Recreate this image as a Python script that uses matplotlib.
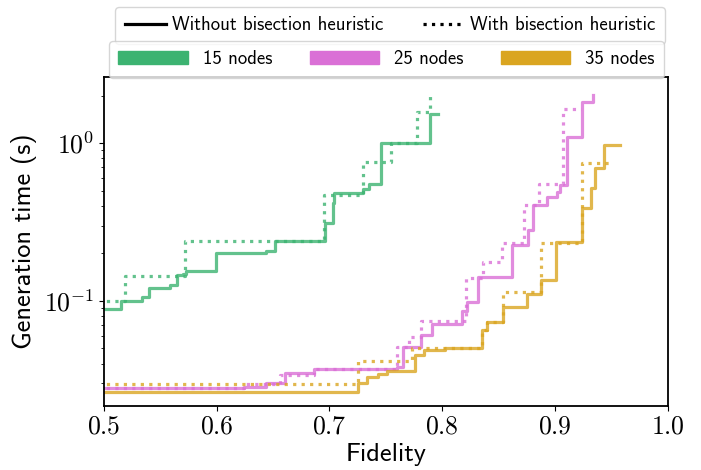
# Generation time vs fidelity, with and without bisection heuristic
import numpy as np
import matplotlib
matplotlib.use("Agg")
import matplotlib.pyplot as plt
from matplotlib.lines import Line2D
from matplotlib.patches import Patch
from matplotlib.ticker import NullFormatter

plt.rcParams['font.family'] = ['cmss10', 'DejaVu Sans']
plt.rcParams['mathtext.fontset'] = 'cm'
plt.rcParams['axes.unicode_minus'] = False

# 15 nodes
f15_plain = [0.48, 0.515, 0.534, 0.540, 0.559, 0.565, 0.570, 0.573, 0.599, 0.644,
             0.652, 0.696, 0.703, 0.704, 0.730, 0.735, 0.746, 0.789, 0.796]
t15_plain = [0.0890, 0.100, 0.106, 0.121, 0.126, 0.146, 0.148, 0.155, 0.201, 0.207,
             0.240, 0.312, 0.417, 0.483, 0.512, 0.550, 1.00, 1.53, 1.53]
f15_bis = [0.48, 0.519, 0.572, 0.695, 0.730, 0.755, 0.778, 0.789]
t15_bis = [0.100, 0.144, 0.240, 0.469, 0.758, 1.00, 1.57, 1.98]

# 25 nodes
f25_plain = [0.48, 0.624, 0.644, 0.661, 0.686, 0.760, 0.765, 0.781, 0.791, 0.818,
             0.822, 0.832, 0.862, 0.876, 0.881, 0.893, 0.902, 0.905, 0.911, 0.924, 0.934]
t25_plain = [0.0281, 0.0286, 0.0303, 0.0350, 0.0371, 0.0382, 0.0511, 0.0609, 0.0715, 0.0864,
             0.0986, 0.142, 0.226, 0.281, 0.405, 0.455, 0.490, 0.542, 1.09, 1.82, 2.01]
f25_bis = [0.48, 0.624, 0.656, 0.686, 0.760, 0.771, 0.781, 0.821, 0.836, 0.853,
           0.873, 0.886, 0.907, 0.923]
t25_bis = [0.0281, 0.0298, 0.0340, 0.0371, 0.0511, 0.0592, 0.0747, 0.140, 0.177, 0.233,
           0.405, 0.550, 1.64, 1.64]

# 35 nodes
f35_plain = [0.48, 0.725, 0.733, 0.743, 0.751, 0.776, 0.784, 0.803, 0.835, 0.840,
             0.854, 0.875, 0.888, 0.901, 0.924, 0.932, 0.936, 0.944, 0.958]
t35_plain = [0.0266, 0.0303, 0.0330, 0.0345, 0.0361, 0.0455, 0.0490, 0.0504, 0.0655, 0.0736,
             0.0916, 0.111, 0.136, 0.236, 0.388, 0.519, 0.694, 0.971, 0.971]
f35_bis = [0.48, 0.725, 0.773, 0.835, 0.840, 0.854, 0.888, 0.924, 0.949]
t35_bis = [0.0298, 0.0417, 0.0504, 0.0655, 0.0736, 0.114, 0.233, 0.747, 0.747]

labels = ["15 nodes", "25 nodes", "35 nodes"]
colors = ["#3cb371", "#da70d6", "#daa520"]
xticks = [0.5, 0.6, 0.7, 0.8, 0.9, 1.0]

fig = plt.figure(figsize=(7.01, 4.70), dpi=100)
ax = fig.add_axes([104 / 701, 1 - 406 / 470, 563.5 / 701, 329 / 470])

series = [(f15_plain, t15_plain, f15_bis, t15_bis),
          (f25_plain, t25_plain, f25_bis, t25_bis),
          (f35_plain, t35_plain, f35_bis, t35_bis)]
for (fp, tp, fb, tb), c in zip(series, colors):
    ax.step(fp, tp, where='post', color=c, lw=2.3, alpha=0.8)
    ax.step(fb, tb, where='post', color=c, lw=2.3, ls=':', alpha=0.8)

ax.set_yscale('log')
ax.set_xlim(0.5, 1.0)
ax.set_ylim(0.0216, 2.62)
ax.set_xticks(xticks)
ax.set_xticklabels([r'$%.1f$' % v for v in xticks], fontsize=18.5)
ax.set_yticks([0.1, 1.0])
ax.set_yticklabels([r'$10^{-1}$', r'$10^{0}$'], fontsize=18.5)
ax.yaxis.set_minor_formatter(NullFormatter())
ax.set_xlabel("Fidelity", fontsize=19, labelpad=3)
ax.set_ylabel("Generation time (s)", fontsize=19, labelpad=5)
for s in ax.spines.values():
    s.set_linewidth(1.3)

h1 = [Line2D([], [], color='black', lw=2.3), Line2D([], [], color='black', lw=2.3, ls=':')]
fig.legend(h1, ["Without bisection heuristic", "With bisection heuristic"],
           loc='upper center', bbox_to_anchor=(390 / 701, 1 - 7 / 470), borderaxespad=0,
           ncol=2, fontsize=13.5, borderpad=0.5, handlelength=2.2, columnspacing=2.1,
           handletextpad=0.32)
h2 = [Patch(color=c) for c in colors]
fig.legend(h2, labels, loc='upper center', bbox_to_anchor=(386.5 / 701, 1 - 41 / 470),
           borderaxespad=0, ncol=3, fontsize=13.5, borderpad=0.5, handlelength=3.7,
           columnspacing=2.0, handletextpad=0.8)

fig.savefig("out.png", dpi=100)
